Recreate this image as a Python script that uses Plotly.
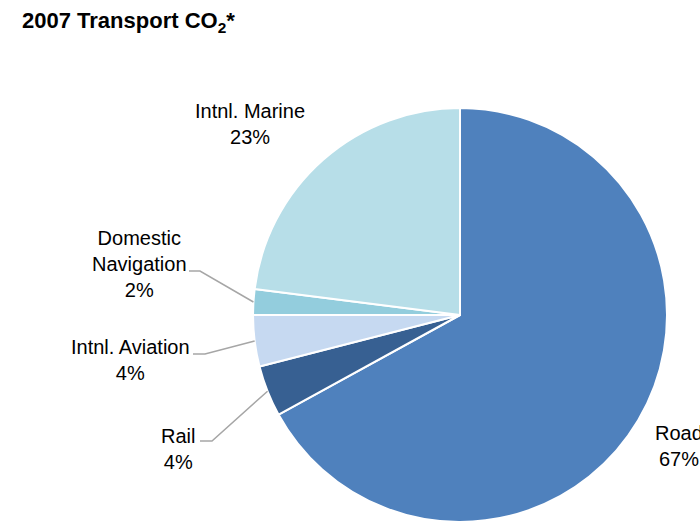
import math
import plotly.graph_objects as go

# Transport CO2 emissions share, 2007
sectors = ["Road", "Rail", "Intnl. Aviation", "Domestic\nNavigation", "Intnl. Marine"]
shares = [67, 4, 4, 2, 23]
colors = ["#4F81BD", "#376092", "#C6D9F1", "#93CDDD", "#B7DEE8"]

W, H = 700, 523
CX, CY, R = 460, 315, 207  # pie centre / radius in pixels


def px(x):
    return x / W


def py(y):
    return 1 - y / H


fig = go.Figure(
    go.Pie(
        labels=[s.replace("\n", " ") for s in sectors],
        values=shares,
        sort=False,
        direction="clockwise",
        rotation=0,
        textinfo="none",
        hoverinfo="label+percent",
        marker=dict(colors=colors, line=dict(color="white", width=2)),
        domain=dict(x=[px(CX - R), px(CX + R)], y=[py(CY + R), py(CY - R)]),
        showlegend=False,
    )
)

# label block centres (pixels) and leader-line elbows (None = no leader)
label_pos = [(679, 446), (178, 449), (130, 360), (139, 264), (250, 124)]
leader_elbow = [None, ((200, 441), (212, 441)), ((193, 354), (205, 354)),
                ((189, 271), (200, 271)), None]

font = dict(family="Liberation Sans Narrow, Arial Narrow, Arial, sans-serif",
            size=20, color="#000000")

total = sum(shares)
cum = 0
annotations = []
shapes = []
for name, val, (lx, ly), elbow in zip(sectors, shares, label_pos, leader_elbow):
    mid = (cum + val / 2) / total * 2 * math.pi
    cum += val
    text = name.replace("\n", "<br>") + "<br>" + f"{round(val / total * 100)}%"
    annotations.append(dict(x=px(lx), y=py(ly), xref="paper", yref="paper",
                            text=text, showarrow=False, font=font,
                            xanchor="center", yanchor="middle", align="center"))
    if elbow:
        ex = CX + R * math.sin(mid)
        ey = CY - R * math.cos(mid)
        (x0, y0), (x1, y1) = elbow
        path = f"M {px(x0)} {py(y0)} L {px(x1)} {py(y1)} L {px(ex)} {py(ey)}"
        shapes.append(dict(type="path", path=path, xref="paper", yref="paper",
                           line=dict(color="#A6A6A6", width=1.5)))

annotations.append(dict(x=px(20), y=py(22), xref="paper", yref="paper",
                        text="<b>2007 Transport CO<sub>2</sub>*</b>",
                        showarrow=False, xanchor="left", yanchor="middle",
                        font=dict(family="Liberation Sans Narrow, Arial Narrow, Arial, sans-serif",
                                  size=22, color="#000000")))

fig.update_layout(
    width=W, height=H,
    margin=dict(l=0, r=0, t=0, b=0),
    paper_bgcolor="white", plot_bgcolor="white",
    annotations=annotations, shapes=shapes,
)

fig.write_html("out.html")
